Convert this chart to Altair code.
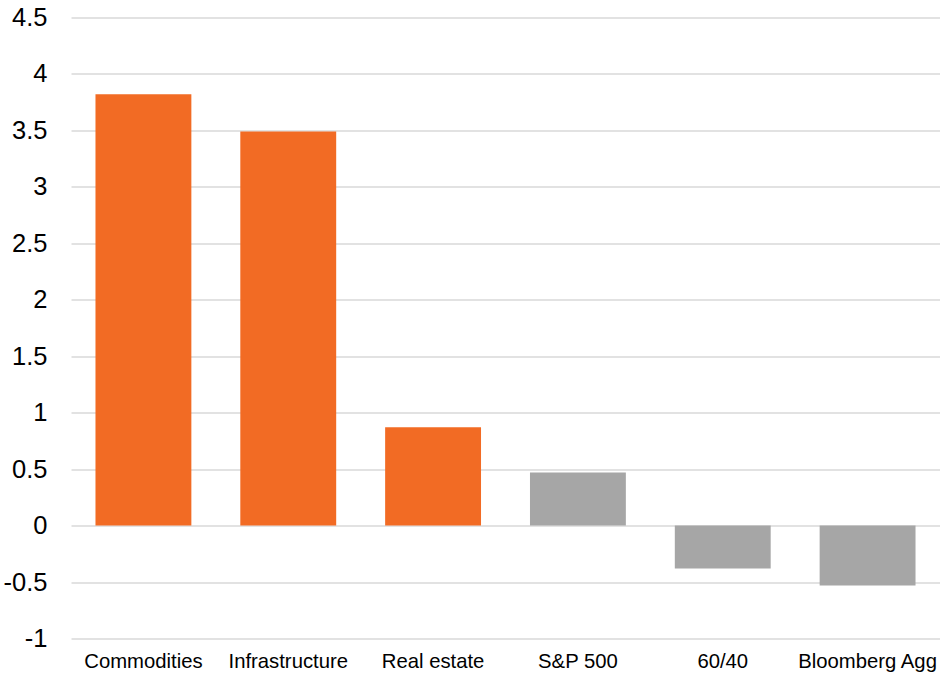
import altair as alt
import pandas as pd

# Asset classes and their values
categories = ["Commodities", "Infrastructure", "Real estate", "S&P 500", "60/40", "Bloomberg Agg"]
values = [3.82, 3.49, 0.87, 0.47, -0.38, -0.53]
groups = ["Real assets", "Real assets", "Real assets", "Traditional", "Traditional", "Traditional"]

group_domain = ["Real assets", "Traditional"]
group_colors = ["#F26B24", "#A6A6A6"]

df = pd.DataFrame({"category": categories, "value": values, "group": groups})

FONT = "Liberation Sans"

chart = (
    alt.Chart(df)
    .mark_bar()
    .encode(
        x=alt.X(
            "category:N",
            sort=categories,
            title=None,
            scale=alt.Scale(paddingInner=0.338, paddingOuter=0.169),
            axis=alt.Axis(
                labelAngle=0,
                labelFontSize=20.3,
                labelFont=FONT,
                labelColor="#000000",
                labelPadding=29,
                labelBaseline="alphabetic",
                ticks=False,
                domain=False,
                grid=False,
            ),
        ),
        y=alt.Y(
            "value:Q",
            title=None,
            scale=alt.Scale(domain=[-1, 4.5], nice=False, zero=False),
            axis=alt.Axis(
                values=[-1, -0.5, 0, 0.5, 1, 1.5, 2, 2.5, 3, 3.5, 4, 4.5],
                labelExpr="datum.value",
                labelFontSize=25.5,
                labelFont=FONT,
                labelColor="#000000",
                labelPadding=24,
                ticks=False,
                domain=False,
                grid=True,
                gridColor="#D9D9D9",
                gridWidth=1.6,
            ),
        ),
        color=alt.Color(
            "group:N",
            scale=alt.Scale(domain=group_domain, range=group_colors),
            legend=None,
        ),
    )
    .properties(
        width=869,
        height=621,
        background="#FFFFFF",
        autosize=alt.AutoSizeParams(type="none"),
        padding={"left": 71, "top": 17.5, "right": 0, "bottom": 36.5},
    )
    .configure_view(strokeWidth=0, stroke="transparent")
)

chart.save("out.html", embed_options={"renderer": "svg", "actions": False})
